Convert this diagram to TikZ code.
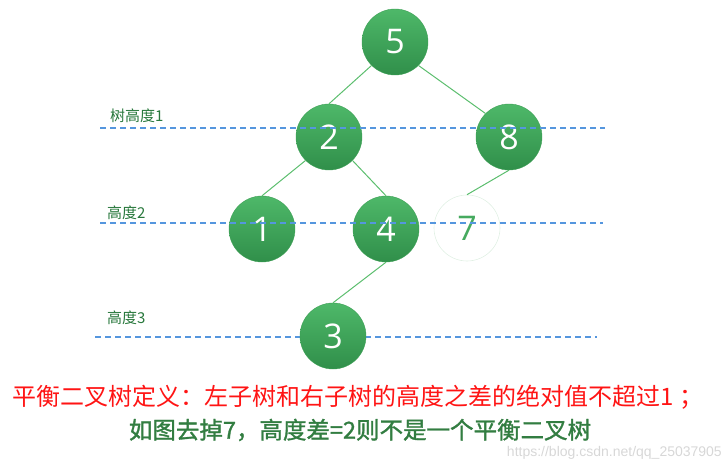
\documentclass[tikz,border=0pt]{standalone}
\usepackage{fontspec}
\setmainfont{Carlito}
\newfontfamily\cjk{Noto Sans CJK SC}
\newfontfamily\cjkb[FakeBold=1.3]{Noto Sans CJK SC}
\newfontfamily\numfont{Open Sans}
\newfontfamily\wmfont{Liberation Sans}
\begin{document}
\begin{tikzpicture}[x=1pt,y=-1pt,
  tnode/.style={circle,minimum size=66pt,inner sep=0pt,
    top color={rgb,255:red,78;green,184;blue,105},
    bottom color={rgb,255:red,48;green,143;blue,74},
    draw={rgb,255:red,62;green,160;blue,86},line width=0.4pt,
    text=white,font=\numfont\fontsize{34}{36}\selectfont},
  gnode/.style={circle,minimum size=66pt,inner sep=0pt,
    draw={rgb,255:red,225;green,240;blue,228},line width=0.6pt,
    text={rgb,255:red,70;green,170;blue,95},font=\numfont\fontsize{34}{36}\selectfont},
  edge/.style={draw={rgb,255:red,92;green,190;blue,110},line width=1pt},
  level/.style={draw={rgb,255:red,85;green,150;blue,222},dash pattern=on 6pt off 4pt,line width=1.2pt},
  lab/.style={anchor=west,text={rgb,255:red,40;green,120;blue,60},font=\cjk\fontsize{15}{17}\selectfont,inner sep=0pt}
]
\useasboundingbox (0,0) rectangle (728,473);
\coordinate (l1a) at (100,128); \coordinate (l1b) at (605,128);
\coordinate (l2a) at (100,223); \coordinate (l2b) at (603,223);
\coordinate (l3a) at (95,337);  \coordinate (l3b) at (597,337);
% level 3 line lies behind the nodes
\draw[level] (l3a) -- (l3b);
\node[lab] (t1) at (110,116) {树高度1};
\node[lab] (t2) at (107,213) {高度2};
\node[lab] (t3) at (107,318) {高度3};
% nodes
\node[tnode] (n5) at (395,42) {5};
\node[tnode] (n2) at (329,137) {2};
\node[tnode] (n8) at (509,137) {8};
\node[tnode] (n1) at (262,229) {1};
\node[tnode] (n4) at (386,229) {4};
\node[gnode] (n7) at (467,228) {7};
\node[tnode] (n3) at (333,336) {3};
% level 1 and 2 lines drawn over the nodes
\draw[level] (l1a) -- (l1b);
\draw[level] (l2a) -- (l2b);
% edges
\draw[edge] (n5.south west) -- (n2.north);
\draw[edge] (n5.south east) -- (n8.north west);
\draw[edge] (n2.south west) -- (n1.north);
\draw[edge] (n2.south east) -- (n4.north);
\draw[edge] (n8.south) -- (n7.north);
\draw[edge] (n4.south) -- (n3.north);
% texts
\node[text={rgb,255:red,255;green,20;blue,20},font=\cjk\fontsize{24}{26}\selectfont] (d1) at (358,397) {平衡二叉树定义：左子树和右子树的高度之差的绝对值不超过1 ；};
\node[text={rgb,255:red,50;green,125;blue,65},font=\cjkb\fontsize{23.5}{26}\selectfont] (d2) at (360,430) {如图去掉7，高度差=2则不是一个平衡二叉树};
\node[anchor=east,text={rgb,255:red,215;green,215;blue,215},font=\wmfont\fontsize{14}{16}\selectfont,inner sep=0pt] (wm) at (722,453) {https://blog.csdn.net/qq\_25037905};
\end{tikzpicture}
\end{document}
